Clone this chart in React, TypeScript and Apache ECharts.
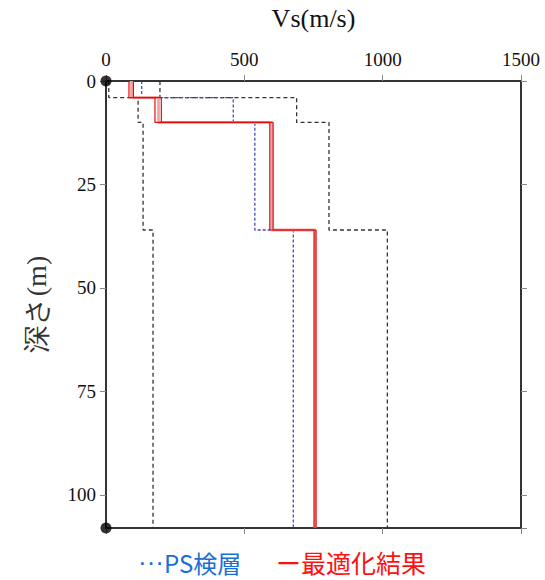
import React, { useEffect, useRef } from "react";
import * as echarts from "echarts";

// Layer boundaries (depth, m)
const depthBounds = [0, 4, 10, 36, 108];
// Vs per layer (m/s)
const psLogging = [129, 460, 538, 677];
const lowerBound = [10, 116, 134, 170];
const upperBound = [195, 689, 806, 1017];
const optimizedA = [83, 177, 592, 752];
const optimizedB = [99, 200, 604, 759];
const optimizedPink = [92, 190, 599, 756];

const xTicks = [0, 500, 1000, 1500];
const yTicks = [0, 25, 50, 75, 100];

function steps(vs: number[]) {
  const pts: number[][] = [];
  vs.forEach((v, i) => {
    pts.push([v, depthBounds[i]]);
    pts.push([v, depthBounds[i + 1]]);
  });
  return pts;
}

const serif = "Liberation Serif";
const cjk = "Noto Sans CJK JP";

export default function App() {
  const ref = useRef<HTMLDivElement>(null);
  useEffect(() => {
    if (!ref.current) return;
    const chart = echarts.init(ref.current, undefined, { renderer: "svg" });
    const axisLine = { show: true, onZero: false, lineStyle: { color: "#333", width: 2 } };
    const axisTick = { show: true, inside: false, length: 6, lineStyle: { color: "#888", width: 1 } };
    const lineSeries = (name: string, data: number[][], color: string, width: number, type: any, z = 2) => ({
      name,
      type: "line",
      data,
      xAxisIndex: 0,
      yAxisIndex: 0,
      symbol: "none",
      z,
      lineStyle: { color, width, type },
    });
    chart.setOption({
      animation: false,
      grid: { left: 106, right: 24, top: 80, bottom: 52 },
      xAxis: [
        {
          type: "value",
          position: "top",
          min: 0,
          max: 1500,
          interval: 500,
          name: "Vs(m/s)",
          nameLocation: "middle",
          nameGap: 50,
          nameTextStyle: { fontFamily: serif, fontSize: 26, color: "#111" },
          axisLine,
          axisTick,
          splitLine: { show: false },
          axisLabel: { fontFamily: serif, fontSize: 19, color: "#111", margin: 12,
            formatter: (v: number) => (xTicks.includes(v) ? String(v) : "") },
        },
        {
          type: "value",
          position: "bottom",
          min: 0,
          max: 1500,
          interval: 500,
          axisLine,
          axisTick,
          splitLine: { show: false },
          axisLabel: { show: false },
        },
      ],
      yAxis: [
        {
          type: "value",
          inverse: true,
          min: 0,
          max: 108,
          interval: 25,
          name: "深さ(m)",
          nameLocation: "middle",
          nameGap: 56,
          nameTextStyle: { fontFamily: serif, fontSize: 28, color: "#333" },
          axisLine,
          axisTick,
          splitLine: { show: false },
          axisLabel: { fontFamily: serif, fontSize: 19, color: "#111", margin: 10,
            showMaxLabel: false,
            formatter: (v: number) => (yTicks.includes(v) ? String(v) : "") },
        },
        {
          type: "value",
          inverse: true,
          position: "right",
          min: 0,
          max: 108,
          interval: 25,
          axisLine,
          axisTick,
          splitLine: { show: false },
          axisLabel: { show: false },
        },
      ],
      series: [
        lineSeries("lower", steps(lowerBound), "#333", 1.3, [4, 3]),
        lineSeries("upper", steps(upperBound), "#333", 1.3, [4, 3]),
        lineSeries("PS検層", steps(psLogging), "#4848c0", 1.3, [3, 2], 3),
        lineSeries("pink", steps(optimizedPink), "#f4a8a8", 3, "solid", 4),
        lineSeries("最適化結果A", steps(optimizedA), "#e01010", 1.2, "solid", 5),
        lineSeries("最適化結果B", steps(optimizedB), "#e01010", 1.2, "solid", 5),
        {
          type: "scatter",
          data: [[0, 0], [0, 108]],
          symbolSize: 11,
          clip: false,
          z: 10,
          itemStyle: { color: "#000" },
        },
      ],
      graphic: [
        {
          type: "text",
          x: 138,
          y: 562,
          style: {
            text: "{d|···}{t|PS検層}",
            verticalAlign: "middle",
            rich: {
              d: { fontFamily: "Liberation Sans", fontSize: 26, fill: "#1a6fd6", lineHeight: 22 },
              t: { fontFamily: cjk, fontSize: 24, fill: "#1a6fd6", lineHeight: 22 },
            },
          },
        },
        {
          type: "text",
          x: 276,
          y: 562,
          style: {
            text: "ー最適化結果",
            fill: "#ff1010",
            fontFamily: cjk,
            fontSize: 25,
            lineHeight: 22,
            verticalAlign: "middle",
          },
        },
      ],
    });
    return () => chart.dispose();
  }, []);
  return <div ref={ref} style={{ width: 545, height: 580, position: "absolute", left: 0, top: 0 }} />;
}
